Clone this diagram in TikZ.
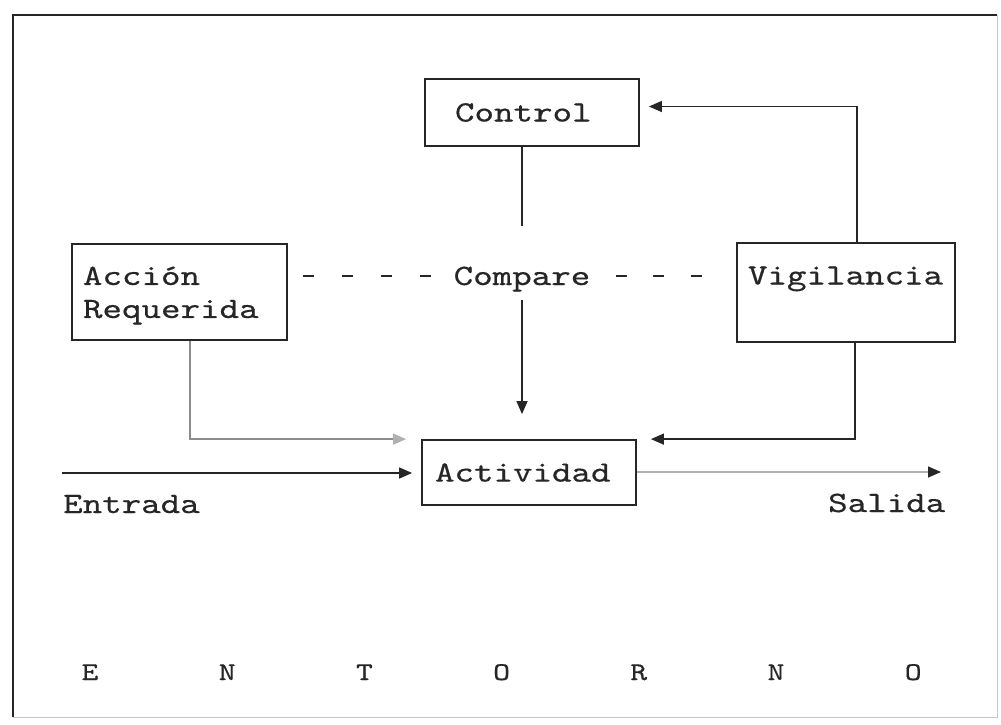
\documentclass[tikz,border=0pt]{standalone}
\usepackage{fontspec}
\newfontfamily\typewriter{lmmono10-regular.otf}[FakeStretch=1.26,FakeBold=0.5]
\usetikzlibrary{arrows.meta}
\definecolor{ink}{HTML}{262626}
\definecolor{pale}{HTML}{B0B0B0}
\definecolor{mid}{HTML}{8C8C8C}
\begin{document}
\begin{tikzpicture}[x=1pt,y=-1pt,
  every node/.style={font=\typewriter\fontsize{29.5}{33}\selectfont, text=ink},
  box/.style={draw=ink, line width=1.8pt, align=left, inner ysep=0pt},
  conn/.style={draw=ink, line width=1.4pt},
  tip/.style={-{Triangle[length=13pt,width=11pt]}},
  plain/.style={inner sep=0pt},
  cmpdash/.style={draw=ink, line width=2.6pt},
  letter/.style={font=\typewriter\fontsize{25.5}{28}\selectfont, anchor=base, inner sep=0pt}
]
\useasboundingbox (0,0) rectangle (1001,725);

% frame
\draw[ink, line width=1.5pt] (13,717) -- (13,15) -- (997,15);
\draw[pale!70, line width=1pt] (997,15) -- (997,717) -- (13,717);

% boxes (struts set the baseline of the first line)
\node[box, minimum width=214pt, minimum height=67pt, inner xsep=30pt, text width=154pt]
  (ctl) at (532,112.5) {Control};
\node[box, minimum width=215pt, minimum height=96pt, inner xsep=11pt, text width=193pt]
  (acc) at (179.5,292) {\rule{0pt}{25.5pt}Acción\\Requerida};
\node[box, minimum width=218pt, minimum height=99pt, inner xsep=11pt, text width=196pt]
  (vig) at (846,292.5) {Vigilancia\rule[-34pt]{0pt}{34pt}};
\node[box, minimum width=214pt, minimum height=65pt, inner xsep=13pt, text width=188pt]
  (act) at (529,472.5) {Actividad};

% comparison
\node[anchor=base, inner sep=3pt] (cmp) at (522,285) {Compare};
\coordinate (dashY) at (0,276);
\draw[cmpdash, dash pattern=on 11pt off 28pt, dash phase=24pt]
  (acc.east |- dashY) -- (cmp.west |- dashY);
\draw[cmpdash, dash pattern=on 11pt off 26.5pt, dash phase=15.5pt, shorten >=30pt]
  (cmp.east |- dashY) -- (vig.west |- dashY);

% control loop
\draw[conn, shorten >=37pt] (ctl.south -| cmp) -- (cmp.north);
\draw[conn, tip, shorten <=5.5pt, shorten >=25pt] (cmp.south) -- (act.north -| cmp);
\draw[conn, tip, shorten >=9pt] ([xshift=11pt]vig.north) |- ([yshift=6pt]ctl.east);
\draw[conn, tip, shorten >=14pt] ([xshift=9pt]vig.south) |- (act.north east);
\draw[conn, draw=mid, -{Triangle[length=13pt,width=11pt,color=pale]}, shorten >=15pt]
  ([xshift=10.5pt]acc.south) |- (act.north west);

% input and output
\coordinate (inS) at (62,473);
\coordinate (outE) at (941,472);
\draw[conn, tip, shorten >=9pt] (inS) -- (act.west |- inS);
\draw[conn, draw=pale, -{Triangle[length=13pt,width=11pt,color=ink]}] (act.east |- outE) -- (outE);
\node[plain, anchor=base west] (ent) at (63,513) {Entrada};
\node[plain, anchor=base west] (sal) at (828,512) {Salida};

% environment
\foreach \ch [count=\i] in {E,N,T,O,R,N,O}
  \node[letter] (env\i) at ({90+137.2*(\i-1)},680) {\ch};
\end{tikzpicture}
\end{document}
